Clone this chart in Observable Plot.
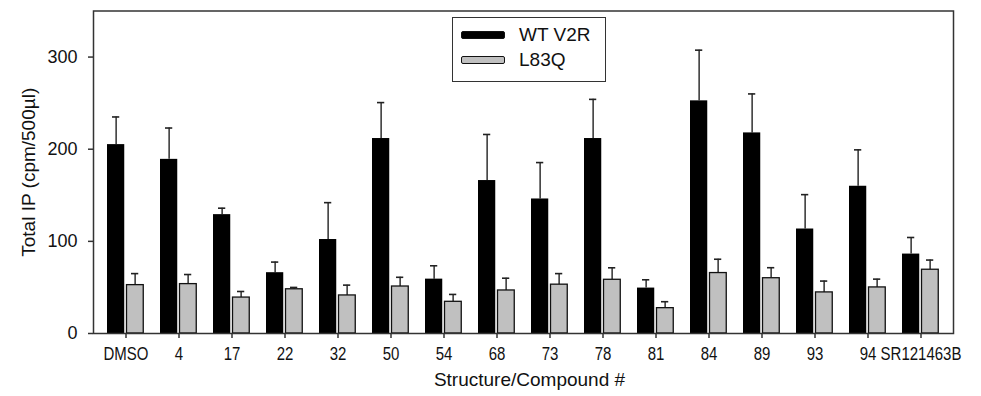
<!DOCTYPE html>
<html><head><meta charset="utf-8">
<script src="https://cdn.jsdelivr.net/npm/d3@7"></script>
<script src="https://cdn.jsdelivr.net/npm/@observablehq/plot@0.6"></script>
<style>
body{margin:0;background:#fff;font-family:"Liberation Sans",Arial,sans-serif;}
#wrap{position:relative;width:981px;height:396px;}
#legend{position:absolute;left:452px;top:17px;width:152px;height:63px;border:1.5px solid #333;background:#fff;box-sizing:content-box;}
.item{position:absolute;left:8px;display:flex;align-items:center;font-size:19px;color:#111;}
.sw{width:44px;height:8px;border-radius:2px;margin-right:14px;box-sizing:border-box;}
</style>
</head><body>
<div id="wrap"><div id="legend"></div></div>
<script>
const compounds = ["DMSO","4","17","22","32","50","54","68","73","78","81","84","89","93","94","SR121463B"];
const wtMean  = [205, 189, 129, 66, 102, 211.6, 59, 166, 146, 211.6, 49.3, 252.5, 217.7, 113.4, 159.8, 86.2];
const wtErr   = [30, 34, 7, 11.5, 40, 39, 14.5, 50, 39.5, 42.5, 9, 55, 42.3, 37.3, 39.5, 18];
const l83qMean = [52.5, 53.6, 39, 48, 41.3, 51, 34.4, 46.7, 53, 58.3, 27.5, 65.6, 60, 44.6, 50, 69.2];
const l83qErr  = [12.5, 10.4, 6.6, 2, 11.2, 10, 8, 13.3, 12, 13, 7, 15, 11.4, 12.3, 9, 10.5];
const seriesNames = ["WT V2R", "L83Q"];
const seriesFill = ["#000000", "#c0c0c0"];
const yTicks = [0, 100, 200, 300];
const yLabel = "Total IP (cpm/500µl)";
const xLabel = "Structure/Compound #";

const W = 981, H = 396, mL = 93, mR = 28, mT = 10.5, mB = 63;
const bw = (W - mL - mR) / compounds.length;

const wtRows = compounds.map((c, i) => ({compound: c, series: seriesNames[0], value: wtMean[i], top: wtMean[i] + wtErr[i]}));
const lqRows = compounds.map((c, i) => ({compound: c, series: seriesNames[1], value: l83qMean[i], top: l83qMean[i] + l83qErr[i]}));

const errColor = "#222";
const chart = Plot.plot({
  width: W, height: H,
  marginLeft: mL, marginRight: mR, marginTop: mT, marginBottom: mB,
  style: {fontFamily: '"Liberation Sans", Arial, sans-serif', color: "#111", background: "#fff"},
  x: {domain: compounds, padding: 0, axis: null},
  y: {domain: [0, 350], axis: null},
  marks: [
    Plot.ruleX(wtRows, {x: "compound", y1: "value", y2: "top", dx: 17 - bw / 2, stroke: errColor, strokeWidth: 1.4}),
    Plot.tickY(wtRows, {x: "compound", y: "top", insetLeft: 13, insetRight: bw - 21, stroke: errColor, strokeWidth: 1.6}),
    Plot.ruleX(lqRows, {x: "compound", y1: "value", y2: "top", dx: 36 - bw / 2, stroke: errColor, strokeWidth: 1.4}),
    Plot.tickY(lqRows, {x: "compound", y: "top", insetLeft: 32, insetRight: bw - 40, stroke: errColor, strokeWidth: 1.6}),
    Plot.barY(wtRows, {x: "compound", y: "value", fill: seriesFill[0], insetLeft: 8, insetRight: bw - 26}),
    Plot.barY(lqRows, {x: "compound", y: "value", fill: seriesFill[1], stroke: "#111", strokeWidth: 1.3, insetLeft: 27.5, insetRight: bw - 45}),
    Plot.frame({stroke: "#333", strokeWidth: 1.5}),
    Plot.axisY({ticks: yTicks, tickSize: 5, tickPadding: 11, fontSize: 18, label: null, stroke: "#333", strokeWidth: 1.5}),
    Plot.axisX({tickSize: 5, tickPadding: 8, fontSize: 18.5, label: null, stroke: "#333", strokeWidth: 1.5}),
    Plot.text([xLabel], {frameAnchor: "bottom", dy: 52, dx: 6, fontSize: 19, fill: "#111"}),
    Plot.text([yLabel], {frameAnchor: "left", textAnchor: "middle", dx: -65, rotate: -90, fontSize: 19, fill: "#111"})
  ]
});
document.getElementById("wrap").prepend(chart);

// Reference tick labels are horizontally condensed: squeeze x tick label glyphs.
chart.querySelectorAll('g[aria-label="x-axis tick label"] text').forEach(t => {
  const tr = t.getAttribute("transform") || "";
  t.setAttribute("transform", tr + " scale(0.81,1)");
});

const legend = document.getElementById("legend");
seriesNames.forEach((name, i) => {
  const item = document.createElement("div");
  item.className = "item";
  item.style.top = (i === 0 ? 6 : 31) + "px";
  const sw = document.createElement("div");
  sw.className = "sw";
  sw.style.background = seriesFill[i];
  sw.style.border = "1.3px solid #111";
  const t = document.createElement("span");
  t.textContent = name;
  item.append(sw, t);
  legend.append(item);
});
</script>
</body></html>
